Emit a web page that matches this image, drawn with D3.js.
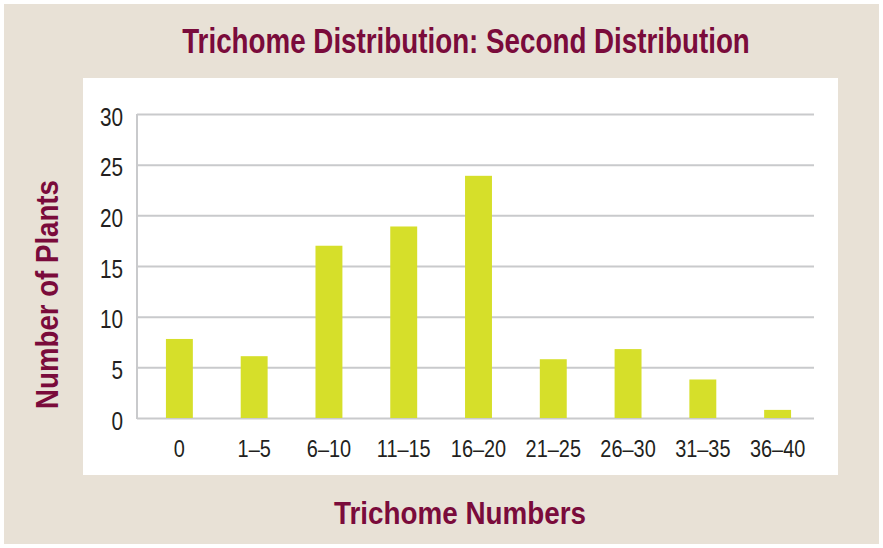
<!DOCTYPE html>
<html>
<head>
<meta charset="utf-8">
<script src="https://cdn.jsdelivr.net/npm/d3@7"></script>
<style>
  body { margin: 0; background: #fff; }
  text { font-family: "Liberation Sans", Arial, sans-serif; }
</style>
</head>
<body>
<div id="chart"></div>
<script>
// data
let categories = ["0", "1–5", "6–10", "11–15", "16–20", "21–25", "26–30", "31–35", "36–40"];
let plants = [7.8, 6.1, 17, 18.9, 23.9, 5.8, 6.8, 3.8, 0.8];
let yTicks = [0, 5, 10, 15, 20, 25, 30];

let W = 883, H = 548;
let squeeze = 0.83; // fake a condensed face

let svg = d3.select("#chart")
  .append("svg")
  .attr("width", W)
  .attr("height", H);

// beige card and white plot panel
svg.append("rect")
  .attr("x", 4).attr("y", 4)
  .attr("width", 875).attr("height", 540)
  .attr("fill", "#e8e1d6");

svg.append("rect")
  .attr("x", 83).attr("y", 78)
  .attr("width", 755).attr("height", 397)
  .attr("fill", "#ffffff");

// scales
let x = d3.scaleBand()
  .domain(categories)
  .range([142, 815])
  .paddingInner(0.64)
  .paddingOuter(0.32);

let y = d3.scaleLinear().domain([0, 30]).range([418, 114]);

// gridlines
svg.append("g")
  .attr("transform", "translate(137,0)")
  .call(d3.axisLeft(y)
    .tickValues(yTicks)
    .tickSize(-(814 - 137))
    .tickFormat(""))
  .call(g => g.select(".domain").remove())
  .selectAll("line")
  .attr("stroke", "#c9cacc")
  .attr("stroke-width", 2);

// y axis line
svg.append("line")
  .attr("x1", 137).attr("x2", 137)
  .attr("y1", y(30)).attr("y2", y(0) + 1)
  .attr("stroke", "#c9cacc")
  .attr("stroke-width", 2);

// y tick labels
svg.selectAll(".ylab")
  .data(yTicks)
  .enter()
  .append("text")
  .attr("class", "ylab")
  .attr("transform", d => "translate(123," + (y(d) + 3) + ") scale(" + squeeze + ",1)")
  .attr("dy", "0.35em")
  .attr("text-anchor", "end")
  .attr("font-size", 25)
  .attr("fill", "#231f20")
  .text(d => d);

// bars
svg.selectAll(".bar")
  .data(plants)
  .enter()
  .append("rect")
  .attr("class", "bar")
  .attr("x", (d, i) => x(categories[i]))
  .attr("y", d => y(d))
  .attr("width", x.bandwidth())
  .attr("height", d => y(0) - y(d))
  .attr("fill", "#d6df2a");

// x tick labels
svg.selectAll(".xlab")
  .data(categories)
  .enter()
  .append("text")
  .attr("class", "xlab")
  .attr("transform", d => "translate(" + (x(d) + x.bandwidth() / 2) + ",448.5) scale(" + squeeze + ",1)")
  .attr("dy", "0.35em")
  .attr("text-anchor", "middle")
  .attr("font-size", 24)
  .attr("fill", "#231f20")
  .text(d => d);

// bold maroon titles, squeezed to the reference width
function title(label, size, width, place) {
  let t = svg.append("text")
    .attr("text-anchor", "middle")
    .attr("font-size", size)
    .attr("font-weight", "bold")
    .attr("fill", "#7a0b3b")
    .text(label);
  let sx = width / t.node().getComputedTextLength();
  t.attr("transform", place + " scale(" + sx + ",1)");
}

title("Trichome Distribution: Second Distribution", 35, 568, "translate(466,53)");
title("Trichome Numbers", 32, 252, "translate(460,524)");
title("Number of Plants", 32, 229, "translate(58,294.5) rotate(-90)");
</script>
</body>
</html>
